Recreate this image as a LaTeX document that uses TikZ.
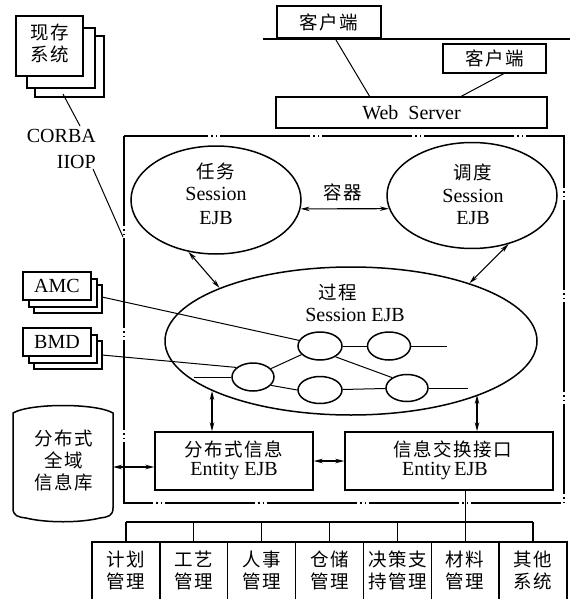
\documentclass[tikz,border=0pt]{standalone}
\usepackage{fontspec}
\setmainfont{Liberation Serif}
\newfontfamily\cjk{Noto Sans CJK SC}[LetterSpace=8]
\usetikzlibrary{shapes.geometric,arrows.meta}
\begin{document}
\begin{tikzpicture}[x=1pt,y=-1pt,
  box/.style={draw, line width=1.5pt, fill=white, inner sep=0pt},
  thin/.style={line width=1pt},
  lbl/.style={font=\fontsize{20}{24}\selectfont, align=center, inner sep=0pt},
  cj/.style={font=\fontsize{18.5}{22}\selectfont\cjk, align=center, inner sep=0pt},
  ell/.style={draw, ellipse, line width=1.5pt, inner sep=0pt},
  dbl/.style={{Stealth[length=9pt,width=4.5pt]}-{Stealth[length=9pt,width=4.5pt]}, line width=1.1pt},
  cont/.style={line width=1.3pt, dash pattern=on 90pt off 3pt on 1.5pt off 3pt on 1.5pt off 3pt}
]
\useasboundingbox (0,0) rectangle (570,599);

% legacy systems stack
\draw[box] (35,36) rectangle (104,97);
\draw[box] (27,28) rectangle (95,88);
\node[box, minimum width=67, minimum height=60] (legacy) at (49.5,46) {};
\node[cj] (legacytxt) at (49.5,43) {现存\\系统};
\node[lbl, anchor=east] (corba) at (96,136) {CORBA};
\node[lbl, anchor=east] (iiop) at (96,162) {IIOP};
\coordinate (lg) at (63,94);
\coordinate (cb) at (80,126);
\coordinate (io) at (93,169);
\coordinate (ce) at (123,237);
\draw[thin] (lg) -- (cb);
\draw[thin] (io) -- (ce);

% clients and web server
\coordinate (netL) at (263,39);
\coordinate (netR) at (570,39);
\draw[line width=2.8pt] (netL) -- (netR);
\node[box, minimum width=104, minimum height=32] (c1) at (329,22) {};
\node[cj] (c1t) at (329,22) {客户端};
\node[box, minimum width=103, minimum height=29] (c2) at (494.5,58.5) {};
\node[cj] (c2t) at (494.5,58) {客户端};
\node[box, minimum width=271, minimum height=31, font=\fontsize{20}{24}\selectfont] (web) at (411.5,112.5) {Web\ \ Server};
\coordinate (c1b) at (336,40);
\coordinate (w1) at (370,97);
\draw[thin] (c1b) -- (w1);
\coordinate (c2b) at (505,73);
\coordinate (w2) at (460,97);
\draw[thin] (c2b) -- (w2);

% container
\coordinate (contNW) at (124,136);
\coordinate (contSE) at (564,503);
\draw[cont] (contNW) rectangle (contSE);

% task / schedule ellipses
\node[ell, minimum width=170, minimum height=108] (task) at (216,200) {};
\node[cj] (taskt) at (216,171) {任务};
\node[lbl] (tasks) at (216,194) {Session};
\node[lbl] (taske) at (216,218) {EJB};
\node[ell, minimum width=170, minimum height=106] (sched) at (472,195.5) {};
\node[cj] (schedt) at (473,172) {调度};
\node[lbl] (scheds) at (473,196) {Session};
\node[lbl] (schede) at (473,218) {EJB};
\node[cj] (rongqi) at (343,192) {容器};
\draw[dbl] (task.-6) -- (sched.189);

% process ellipse
\node[ell, minimum width=372, minimum height=148] (proc) at (351,341) {};
\node[cj] (proct) at (338,292) {过程};
\node[lbl] (procs) at (355,315) {Session EJB};
\node[ell, minimum width=44, minimum height=28] (e1) at (320,346) {};
\node[ell, minimum width=43, minimum height=28] (e2) at (389,346) {};
\node[ell, minimum width=42, minimum height=28] (e3) at (253,377) {};
\node[ell, minimum width=44, minimum height=27] (e4) at (320,390) {};
\node[ell, minimum width=42, minimum height=27] (e5) at (407,388) {};
\coordinate (e2r) at (447,346);
\coordinate (e5r) at (468,388);
\coordinate (e3l) at (194,377);
\draw[thin] (e1) -- (e2);
\draw[thin] (e4) -- (e5);
\draw[thin] (e2.east) -- (e2r);
\draw[thin] (e5.east) -- (e5r);
\draw[thin] (e3l) -- (e3.west);
\draw[thin] (e3.25) -- (e1.205);
\draw[thin] (e3.-25) -- (e4.west);
\draw[thin] (e1.-35) -- (e5.145);

\draw[dbl] (task.242) -- (proc.158);
\draw[dbl] (sched.307) -- (proc.26);

% AMC / BMD stacks
\draw[box] (34,285) rectangle (102,313);
\draw[box] (29,279) rectangle (97,307);
\node[box, minimum width=68, minimum height=28, font=\fontsize{20}{24}\selectfont] (amc) at (57,286) {AMC};
\draw[box] (34,341) rectangle (102,369);
\draw[box] (29,335) rectangle (97,363);
\node[box, minimum width=68, minimum height=28, font=\fontsize{20}{24}\selectfont] (bmd) at (57,342) {BMD};
\coordinate (amcr) at (102,297);
\coordinate (bmdr) at (102,355);
\draw[thin] (amcr) -- (e1.165);
\draw[thin] (bmdr) -- (e3.150);

% database
\node[minimum width=100, minimum height=110, inner sep=0pt] (db) at (63,466) {};
\draw[line width=1.5pt] (13,413) .. controls (30,403) and (96,403) .. (113,413)
  -- (113,508) .. controls (113,516) and (108,517) .. (100,518)
  .. controls (80,523) and (46,523) .. (26,518)
  .. controls (18,517) and (13,516) .. (13,508) -- cycle;
\node[cj] (dbt) at (64,461) {分布式\\全域\\信息库};

% entity boxes
\node[box, minimum width=158, minimum height=58] (dist) at (234,461) {};
\node[cj] (distt) at (234,449) {分布式信息};
\node[lbl] (diste) at (234,471) {Entity EJB};
\node[box, minimum width=208, minimum height=58] (info) at (449,461) {};
\node[cj] (infot) at (453,449) {信息交换接口};
\node[lbl] (infoe) at (445,471) {Entity\,EJB};

\coordinate (pa) at (212,391);
\coordinate (pb) at (477,395);
\draw[dbl] (pa) -- (pa |- dist.north);
\draw[dbl] (pb) -- (pb |- info.north);
\draw[dbl] (info.west) -- (dist.east);
\coordinate (dba) at (113,467);
\draw[dbl] (dba) -- (dba -| dist.west);

% bottom systems
\foreach \i/\t in {1/计划\\管理, 2/工艺\\管理, 3/人事\\管理, 4/仓储\\管理, 5/决策支\\持管理, 6/材料\\管理, 7/其他\\系统} {
  \node[box, minimum width=67.86, minimum height=70] (m\i) at ({92+33.93+67.86*(\i-1)},577) {};
  \node[cj] (t\i) at ({92+33.93+67.86*(\i-1)},570) {\t};
}
\coordinate (bus) at (125,522);
\draw[line width=1.3pt] (m1.north |- bus) -- (m7.north |- bus);
\foreach \i in {1,...,7} { \draw[line width=1.3pt] (m\i.north |- bus) -- (m\i.north); }
\draw[line width=1.3pt] (m6.north |- info.south) -- (m6.north |- bus);
\end{tikzpicture}
\end{document}
